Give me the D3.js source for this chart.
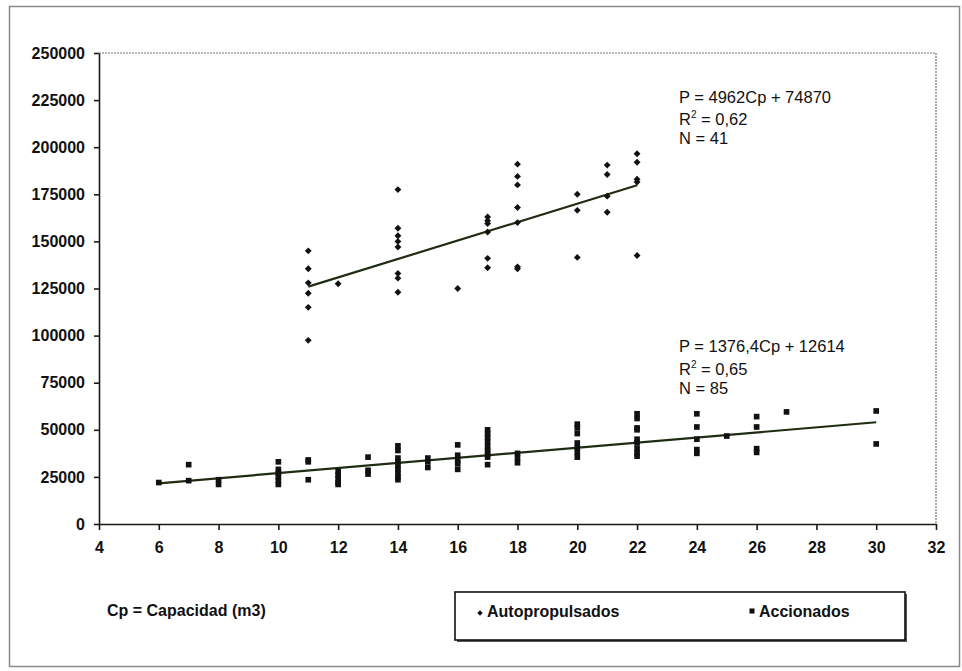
<!DOCTYPE html>
<meta charset="utf-8">
<style>
body {
  margin: 0;
  background: #fff;
}
svg text {
  font-family: "Liberation Sans", Arial, sans-serif;
  fill: #111;
}
.axis path, .axis line {
  stroke: #1c1a10;
  stroke-width: 1.6px;
}
.axis text {
  font-size: 16px;
  font-weight: bold;
}
.note {
  font-size: 16.5px;
}
.legend text {
  font-size: 16px;
  font-weight: bold;
}
</style>
<div id="chart"></div>
<script src="https://d3js.org/d3.v7.min.js"></script>
<script>

// Autopropulsados (diamonds)
var autoCp = [11, 11, 11, 11, 11, 11,
              12,
              14, 14, 14, 14, 14, 14, 14, 14,
              16,
              17, 17, 17, 17, 17, 17,
              18, 18, 18, 18, 18, 18, 18,
              20, 20, 20,
              21, 21, 21, 21,
              22, 22, 22, 22, 22];
var autoP = [145000, 135500, 128000, 122500, 115000, 97500,
             127500,
             177500, 157000, 153000, 150000, 147000, 133000, 130500, 123000,
             125000,
             163000, 161000, 159500, 155000, 141000, 136000,
             191000, 184500, 180000, 168000, 160000, 136500, 135500,
             175000, 166500, 141500,
             190500, 185500, 174000, 165500,
             196500, 192000, 183000, 181500, 142500];

// Accionados (squares)
var accCp = [6,
             7, 7,
             8, 8,
             10, 10, 10, 10, 10, 10,
             11, 11, 11,
             12, 12, 12, 12, 12,
             13, 13, 13,
             14, 14, 14, 14, 14, 14, 14, 14, 14,
             15, 15, 15,
             16, 16, 16, 16, 16,
             17, 17, 17, 17, 17, 17, 17, 17, 17,
             18, 18, 18,
             20, 20, 20, 20, 20, 20, 20,
             22, 22, 22, 22, 22, 22, 22, 22, 22,
             24, 24, 24, 24, 24,
             25,
             26, 26, 26, 26,
             27,
             30, 30];
var accP = [22000,
            31500, 23000,
            23500, 21000,
            33000, 29000, 27000, 25000, 23000, 21000,
            34000, 33000, 23500,
            28000, 26000, 24000, 22000, 21000,
            35500, 28500, 26500,
            41500, 39000, 35000, 33000, 31000, 29000, 27000, 25000, 23500,
            35000, 33000, 30000,
            42000, 36500, 34000, 32000, 29000,
            50000, 48000, 46000, 43500, 41000, 39000, 37000, 35500, 31500,
            37500, 35000, 32500,
            53000, 51000, 48000, 43000, 40500, 38000, 35500,
            58500, 56000, 51000, 50000, 45000, 43000, 40000, 37500, 36000,
            58500, 51500, 45000, 39500, 37500,
            46700,
            57000, 51500, 40000, 38000,
            59500,
            60000, 42500];

// trend lines, end points as drawn
var autoTrendCp = [11, 22];
var autoTrendP = [126000, 179800];
var accTrendCp = [6, 30];
var accTrendP = [21600, 54000];

var autoNote = ["P = 4962Cp + 74870", "R2 = 0,62", "N = 41"];
var accNote = ["P = 1376,4Cp + 12614", "R2 = 0,65", "N = 85"];

var xTicks = d3.range(4, 33, 2);
var yTicks = d3.range(0, 250001, 25000);

var width = 962, height = 671;

var svg = d3.select("#chart")
    .append("svg")
    .attr("width", width)
    .attr("height", height);

// outer chart frame
svg.append("rect")
    .attr("x", 9.5).attr("y", 6.5)
    .attr("width", 950).attr("height", 660)
    .attr("fill", "none")
    .attr("stroke", "#8a8a8a")
    .attr("stroke-width", 1.5);

var x = d3.scaleLinear().domain([4, 32]).range([99, 936]);
var y = d3.scaleLinear().domain([0, 250000]).range([524, 53]);

// plot area border (top and right)
svg.append("path")
    .attr("d", "M" + x(4) + "," + y(250000) + "H" + x(32) + "V" + y(0))
    .attr("fill", "none")
    .attr("stroke", "#777")
    .attr("stroke-width", 1.2)
    .attr("stroke-dasharray", "2,1");

svg.append("g")
    .attr("class", "axis")
    .attr("transform", "translate(0," + y(0) + ")")
    .call(d3.axisBottom(x).tickValues(xTicks).tickSize(6).tickPadding(12).tickSizeOuter(0));

svg.append("g")
    .attr("class", "axis")
    .attr("transform", "translate(" + x(4) + ",0)")
    .call(d3.axisLeft(y).tickValues(yTicks).tickSize(5).tickPadding(9).tickSizeOuter(0)
      .tickFormat(d3.format("d")));

// trend lines
var line = d3.line()
    .x(function(d) { return x(d[0]); })
    .y(function(d) { return y(d[1]); });

svg.append("path")
    .datum(d3.zip(autoTrendCp, autoTrendP))
    .attr("d", line)
    .attr("fill", "none")
    .attr("stroke", "#1f2c12")
    .attr("stroke-width", 2.2);

svg.append("path")
    .datum(d3.zip(accTrendCp, accTrendP))
    .attr("d", line)
    .attr("fill", "none")
    .attr("stroke", "#1f2c12")
    .attr("stroke-width", 2.2);

var diamond = d3.symbol().type(d3.symbolDiamond2).size(30);
var square = d3.symbol().type(d3.symbolSquare).size(32);

svg.append("g")
  .selectAll("path")
  .data(d3.zip(autoCp, autoP))
  .enter().append("path")
    .attr("d", diamond)
    .attr("fill", "#111")
    .attr("transform", function(d) { return "translate(" + x(d[0]) + "," + y(d[1]) + ")"; });

svg.append("g")
  .selectAll("path")
  .data(d3.zip(accCp, accP))
  .enter().append("path")
    .attr("d", square)
    .attr("fill", "#111")
    .attr("transform", function(d) { return "translate(" + x(d[0]) + "," + y(d[1]) + ")"; });

// equation notes
function addNote(lines, x0, ys) {
  var g = svg.append("g").attr("class", "note");
  lines.forEach(function(t, i) {
    var txt = g.append("text").attr("x", x0).attr("y", ys[i]);
    if (t.indexOf("R2") == 0) {
      txt.append("tspan").text("R");
      txt.append("tspan").attr("dy", -7).attr("font-size", "10px").text("2");
      txt.append("tspan").attr("dy", 7).text(t.slice(2));
    } else {
      txt.text(t);
    }
  });
}
addNote(autoNote, 679, [103, 125, 144]);
addNote(accNote, 679, [352, 375, 394]);

// bottom texts
var legend = svg.append("g").attr("class", "legend");

legend.append("text")
    .attr("x", 107).attr("y", 616)
    .text("Cp = Capacidad (m3)");

// slight shadow under the legend box
legend.append("rect")
    .attr("x", 457).attr("y", 594)
    .attr("width", 450).attr("height", 48)
    .attr("fill", "#555");

legend.append("rect")
    .attr("x", 455).attr("y", 592)
    .attr("width", 450).attr("height", 48)
    .attr("fill", "#fff")
    .attr("stroke", "#111")
    .attr("stroke-width", 1.6);

legend.append("path")
    .attr("d", diamond)
    .attr("fill", "#111")
    .attr("transform", "translate(480,613) scale(0.8)");
legend.append("text")
    .attr("x", 487).attr("y", 617)
    .text("Autopropulsados");

legend.append("path")
    .attr("d", square)
    .attr("fill", "#111")
    .attr("transform", "translate(752,611) scale(0.9)");
legend.append("text")
    .attr("x", 759).attr("y", 617)
    .text("Accionados");

</script>
